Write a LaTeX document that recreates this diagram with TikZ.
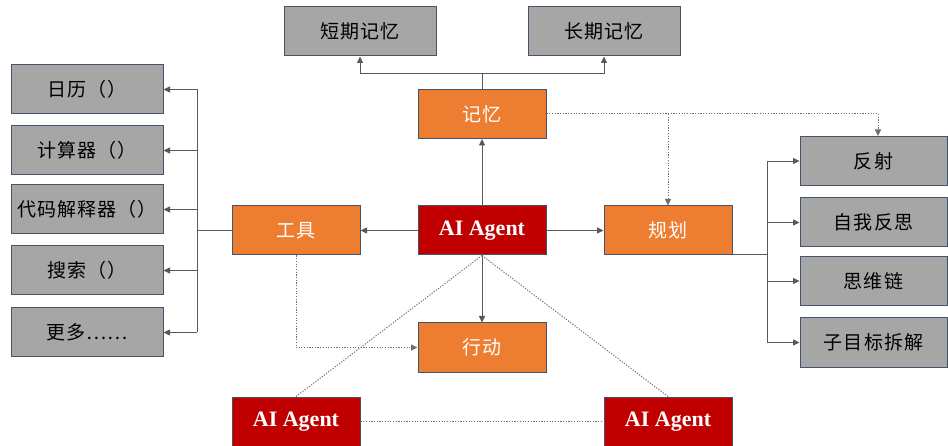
\documentclass[tikz,border=0pt]{standalone}
\usepackage{fontspec}
\setmainfont{Liberation Serif}
\newfontfamily\cjk[LetterSpace=6]{Noto Sans CJK SC}
\usetikzlibrary{arrows.meta}
\definecolor{gfill}{HTML}{A6A6A6}
\definecolor{orng}{HTML}{ED7D31}
\definecolor{redc}{HTML}{C00000}
\definecolor{bord}{HTML}{44546A}
\definecolor{lgray}{HTML}{595959}
\definecolor{dgray}{HTML}{6F6F6F}
\begin{document}
\begin{tikzpicture}[x=1pt,y=-1pt,
  box/.style={draw=bord, line width=1pt, minimum height=49pt, inner sep=0pt, font=\cjk\fontsize{19}{21}\selectfont},
  gbox/.style={box, fill=gfill, text=black, minimum width=152pt},
  obox/.style={box, fill=orng, text=white, minimum width=128pt},
  rbox/.style={box, fill=redc, text=white, minimum width=128pt, font=\bfseries\fontsize{22}{24}\selectfont},
  ln/.style={draw=lgray, line width=0.8pt},
  arr/.style={ln, -{Triangle[length=6.5pt,width=6pt]}},
  dot/.style={draw=dgray, line width=1pt, dash pattern=on 1.2pt off 1.5pt},
  darr/.style={dot, -{Triangle[length=6.5pt,width=6pt]}}]
\useasboundingbox (0,0) rectangle (948,446);
\fill[white] (0,0) rectangle (948,446);
% top
\node[gbox] (stm) at (360,31.5) {短期记忆};
\node[gbox] (ltm) at (604,31.5) {长期记忆};
\node[obox] (mem) at (482,114) {记忆};
% middle row
\node[rbox] (agent) at (482,230.5) {AI Agent};
\node[obox] (tool) at (296,230.5) {工具};
\node[obox] (plan) at (668,230.5) {规划};
\node[obox] (act) at (482,347.5) {行动};
\node[rbox] (a2) at (296,421.5) {AI Agent};
\node[rbox] (a3) at (668,421.5) {AI Agent};
% left list
\node[gbox] (t1) at (87,89.5) {日历（）};
\node[gbox] (t2) at (87,150.5) {计算器（）};
\node[gbox] (t3) at (87,209.5) {代码解释器（）};
\node[gbox] (t4) at (87,270.5) {搜索（）};
\node[gbox] (t5) at (87,332.5) {更多……};
% right list
\node[gbox, minimum width=147pt] (p1) at (873.5,161) {反射};
\node[gbox, minimum width=147pt] (p2) at (873.5,222.5) {自我反思};
\node[gbox, minimum width=147pt] (p3) at (873.5,281) {思维链};
\node[gbox, minimum width=147pt] (p4) at (873.5,342.5) {子目标拆解};
% memory branches
\coordinate (mbus) at (482,73);
\draw[ln] (mem.north) -- (mbus);
\draw[arr] (mbus) -| (stm.south);
\draw[arr] (mbus) -| (ltm.south);
% agent arrows
\draw[arr] (agent.north) -- (mem.south);
\draw[arr] (agent.west) -- (tool.east);
\draw[arr] (agent.east) -- (plan.west);
\draw[arr] (agent.south) -- (act.north);
% left bus
\coordinate (lb) at (197,230.5);
\draw[ln] (tool.west) -- (lb);
\draw[ln] (lb |- t1.east) -- (lb |- t5.east);
\foreach \n in {t1,t2,t3,t4,t5} \draw[arr] (lb |- \n.east) -- (\n.east);
% right bus
\coordinate (rb) at (767,254);
\draw[ln] (plan.east |- rb) -- (rb);
\draw[ln] (rb |- p1.west) -- (rb |- p4.west);
\foreach \n in {p1,p2,p3,p4} \draw[arr] (rb |- \n.west) -- (\n.west);
% dotted
\coordinate (dm) at (878,114);
\draw[dot] (mem.east) -- (dm);
\draw[darr] (dm) -- (dm |- p1.north);
\draw[darr] (plan.north |- mem.east) -- (plan.north);
\draw[darr] (tool.south) |- (act.west);
\draw[dot] (agent.south) -- (a2.north);
\draw[dot] (agent.south) -- (a3.north);
\draw[dot] (a2.east) -- (a3.west);
\end{tikzpicture}
\end{document}
